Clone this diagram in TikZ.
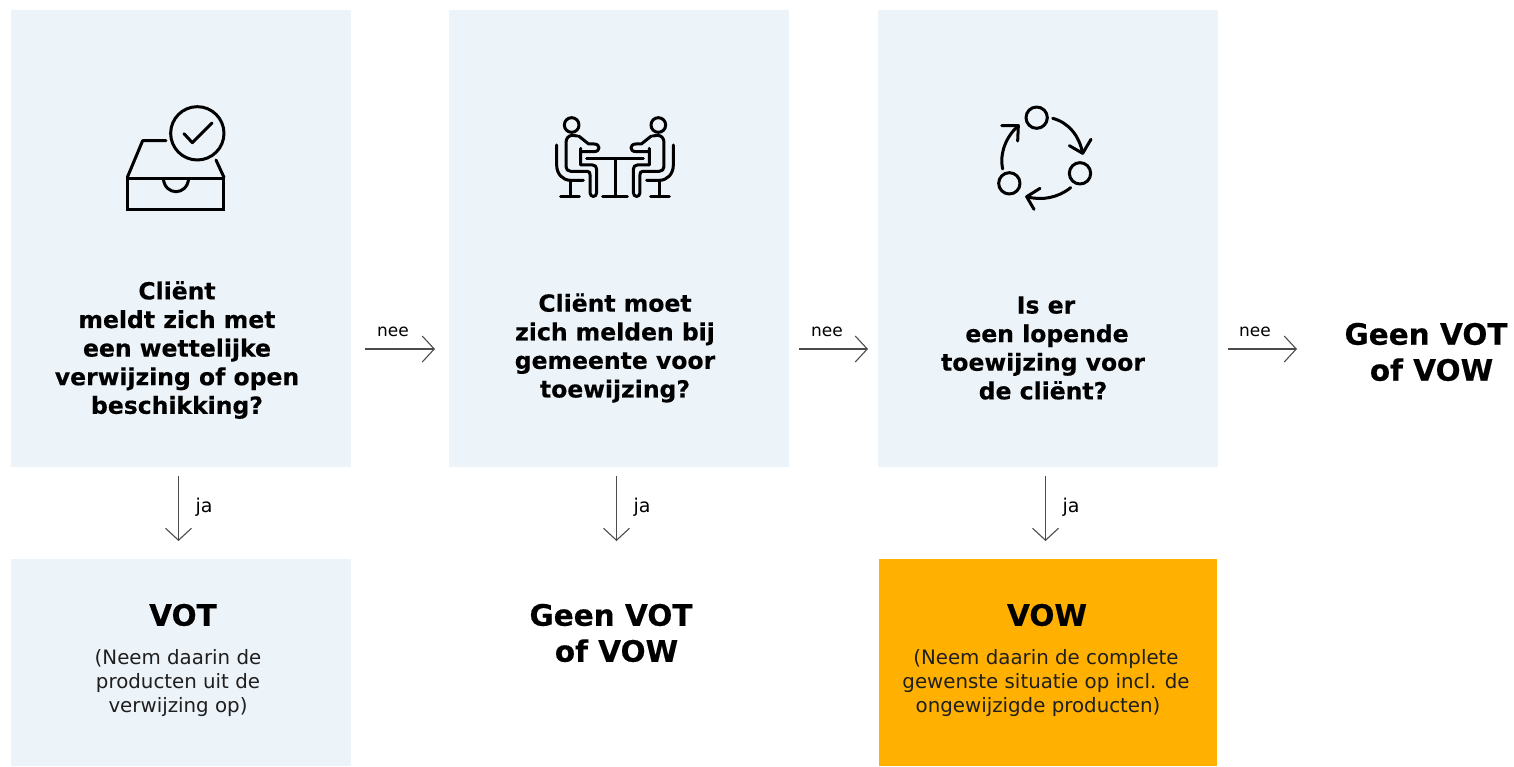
\documentclass[tikz,border=0pt]{standalone}
\usepackage{fontspec}
\setmainfont[BoldFeatures={FakeBold=0.35}]{DejaVu Sans}
\usetikzlibrary{arrows.meta}
\definecolor{pale}{HTML}{ECF3F9}
\definecolor{amber}{HTML}{FFB000}
\definecolor{ink}{HTML}{000000}
\tikzset{
  x=1pt,y=-1pt,
  panel/.style={fill=pale,draw=none,minimum width=340pt,inner sep=0pt,outer sep=0pt},
  orange/.style={fill=amber,draw=none,inner sep=0pt,outer sep=0pt},
  qtext/.style={align=center,font=\fontsize{23.5}{28.6}\selectfont\bfseries,text=ink,inner sep=0pt},
  big/.style={align=center,font=\fontsize{29.5}{36}\selectfont\bfseries,text=ink,inner sep=0pt},
  small/.style={align=center,font=\fontsize{19.8}{24}\selectfont,text=black!88,inner sep=0pt},
  lab/.style={font=\fontsize{17}{20}\selectfont,text=ink,inner sep=0pt},
  flow/.style={draw=black!70,line width=1.1pt,-{Straight Barb[length=12pt,width=26pt,line width=1.1pt]}},
  icon/.style={draw=black,line width=3pt,line cap=round,line join=round,fill=none},
}
\begin{document}
\begin{tikzpicture}
\useasboundingbox (0,0) rectangle (1514,766);
\path[fill=white] (0,0) rectangle (1514,766);
% panels
\node[panel,minimum height=457pt,anchor=north west] (p1) at (11,10) {};
\node[panel,minimum height=457pt,anchor=north west] (p2) at (448.5,10) {};
\node[panel,minimum height=457pt,anchor=north west] (p3) at (878,10) {};
\node[panel,minimum height=207pt,anchor=north west] (r1) at (11,559) {};
\node[orange,minimum width=338pt,minimum height=207pt,anchor=north west] (r3) at (879,559) {};
% question text
\node[qtext] (q1) at (177,350) {Cliënt\\meldt zich met\\een wettelijke\\verwijzing of open\\beschikking?};
\node[qtext] (q2) at (615,348) {Cliënt moet\\zich melden bij\\gemeente voor\\toewijzing?};
\node[qtext] (q3) at (1043,348) {\hspace{6pt}Is er\\\hspace{8pt}een lopende\\toewijzing voor\\de cliënt?};
% results
\node[big] (g3) at (1426,352) {Geen VOT\\\hspace{11pt}of VOW};
\node[big] (g2) at (611,633) {Geen VOT\\\hspace{11pt}of VOW};
\node[big] (v1) at (183,615) {VOT};
\node[small] (t1) at (178,683) {(Neem daarin de\\producten uit de\\verwijzing op)};
\node[big] (v3) at (1047,615) {VOW};
\node[small] (t3) at (1046,683) {(Neem daarin de complete\\gewenste situatie op incl. de\\ongewijzigde producten)\hspace{16pt}\null};
% connectors
\coordinate (a1s) at (365,349); \coordinate (a1e) at (435,349);
\coordinate (a2s) at (799,349); \coordinate (a2e) at (868,349);
\coordinate (a3s) at (1228,349); \coordinate (a3e) at (1297,349);
\coordinate (d1s) at (178.5,476); \coordinate (d1e) at (178.5,541);
\coordinate (d2s) at (616.5,476); \coordinate (d2e) at (616.5,541);
\coordinate (d3s) at (1045.5,476); \coordinate (d3e) at (1045.5,541);
\draw[flow] (a1s) -- (a1e);
\draw[flow] (a2s) -- (a2e);
\draw[flow] (a3s) -- (a3e);
\draw[flow] (d1s) -- (d1e);
\draw[flow] (d2s) -- (d2e);
\draw[flow] (d3s) -- (d3e);
\node[lab] (n1) at (393,332) {nee};
\node[lab] (n2) at (827,332) {nee};
\node[lab] (n3) at (1255,332) {nee};
\node[lab,font=\fontsize{19}{20}\selectfont] (j1) at (204,507) {ja};
\node[lab,font=\fontsize{19}{20}\selectfont] (j2) at (642,507) {ja};
\node[lab,font=\fontsize{19}{20}\selectfont] (j3) at (1071,507) {ja};
% icon 1: tray with check
\begin{scope}[shift={(100,90)},x=0.3333pt,y=-0.3333pt]
\draw[icon] (292,130) circle (80);
\draw[icon] (252,131) -- (277,158) -- (336,99);
\draw[icon] (198,152) -- (128,152) -- (82,262);
\draw[icon] (348,210) -- (372,262);
\draw[icon,line cap=butt,line join=miter] (82,265) rectangle (372,358);
\draw[icon,line cap=butt] (190,265) .. controls (192,292) and (210,305) .. (228,305) .. controls (246,305) and (264,292) .. (266,265);
\end{scope}
% icon 2: two people at a table
\begin{scope}[shift={(540,100)},x=0.3333pt,y=-0.3333pt]
\draw[icon] (140,175) -- (310,175);
\draw[icon] (225,175) -- (225,290);
\draw[icon] (188,290) -- (262,290);
\foreach \m/\o in {1/0,-1/450}{
\begin{scope}[shift={(\o,0)},xscale=\m]
\draw[icon] (95,75) circle (22);
\draw[icon] (116,108) -- (146,132) -- (162,132) .. controls (182,132) and (182,155) .. (162,155) -- (122,155);
\draw[icon] (112,108) -- (98,106) .. controls (85,106) and (78,115) .. (78,128) -- (78,200) .. controls (78,208) and (84,214) .. (92,214) -- (142,214) .. controls (148,214) and (150,218) .. (150,224) -- (150,278) .. controls (150,293) and (170,293) .. (170,278) -- (170,208) .. controls (170,200) and (165,195) .. (158,195) -- (122,195) -- (122,145);
\draw[icon] (50,135) -- (50,195) .. controls (50,222) and (68,241) .. (92,241) -- (130,241);
\draw[icon] (90,241) -- (90,290);
\draw[icon] (62,290) -- (118,290);
\end{scope}}
\end{scope}
% icon 3: cycle
\begin{scope}[shift={(980,95)},x=0.3333pt,y=-0.3333pt]
\draw[icon] (170,68) circle (32);
\draw[icon] (300,235) circle (32);
\draw[icon] (88,265) circle (32);
\draw[icon] (218,70) .. controls (265,82) and (298,122) .. (308,175);
\draw[icon] (268,152) -- (308,175) -- (333,133);
\draw[icon] (272,278) .. controls (235,308) and (185,318) .. (140,305);
\draw[icon] (180,280) -- (140,305) -- (162,343);
\draw[icon] (68,222) .. controls (58,175) and (78,125) .. (115,92);
\draw[icon] (65,92) -- (115,92) -- (113,138);
\end{scope}
\end{tikzpicture}
\end{document}
